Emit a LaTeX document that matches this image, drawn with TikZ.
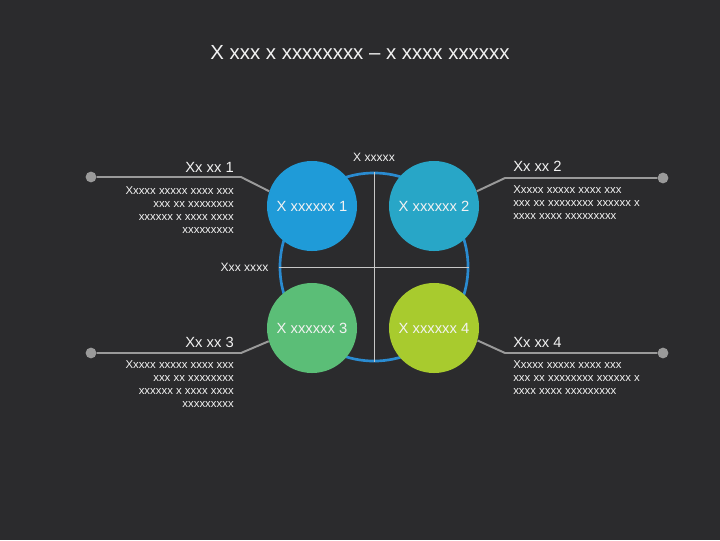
\documentclass[tikz,border=0pt]{standalone}
\usepackage{fontspec}
\setmainfont{Liberation Sans}
\usepackage{tikz}
\usetikzlibrary{positioning}

\definecolor{bgdark}{HTML}{2B2B2D}
\definecolor{ringblue}{HTML}{2A8BD0}
\definecolor{quadA}{HTML}{1F9BD8}
\definecolor{quadB}{HTML}{28A6C7}
\definecolor{quadC}{HTML}{5BBE77}
\definecolor{quadD}{HTML}{A8CB2E}
\definecolor{linegray}{HTML}{9A9A9A}
\definecolor{txtlight}{HTML}{F2F2F2}

\begin{document}
\begin{tikzpicture}[x=0.025cm, y=-0.025cm, every node/.style={text=txtlight},
  quad/.style={circle, minimum size=22.5mm, inner sep=0pt, font=\fontsize{10.5}{12}\selectfont},
  dot/.style={circle, fill=linegray, minimum size=2.7mm, inner sep=0pt},
  conn/.style={draw=linegray, line width=1.4pt},
  headl/.style={anchor=base east, inner sep=0pt, font=\fontsize{10.5}{12}\selectfont},
  headr/.style={anchor=base west, inner sep=0pt, font=\fontsize{10.5}{12}\selectfont},
  bodyl/.style={anchor=north east, inner sep=0pt, align=right, font=\fontsize{8.1}{9.4}\selectfont},
  bodyr/.style={anchor=north west, inner sep=0pt, align=left, font=\fontsize{8.1}{9.4}\selectfont}]
\useasboundingbox[fill=bgdark] (0,0) rectangle (720,540);
\node[font=\fontsize{14.5}{17}\selectfont] (title) at (360,52) {X xxx x xxxxxxxx -- x xxxx xxxxxx};
% ring with cross
\node[circle, draw=ringblue, line width=1.9pt, minimum size=47mm, inner sep=0pt] (ring) at (374,267) {};
\draw[white!78!black, line width=0.7pt] (ring.north) -- (ring.south) (ring.west) -- (ring.east);
\node[inner sep=0pt, above=2.4mm of ring.north, font=\fontsize{8.6}{10}\selectfont] (toplbl) {X xxxxx};
\node[inner sep=0pt, left=2.5mm of ring.west, font=\fontsize{8.6}{10}\selectfont] (leftlbl) {Xxx xxxx};
% four circles
\node[quad, fill=quadA] (c1) at (312,206) {X xxxxxx 1};
\node[quad, fill=quadB] (c2) at (434,206) {X xxxxxx 2};
\node[quad, fill=quadC] (c3) at (312,328) {X xxxxxx 3};
\node[quad, fill=quadD] (c4) at (434,328) {X xxxxxx 4};
% callouts
\node[dot] (d1) at (91,177) {};  \coordinate (b1) at (241,177);
\node[dot] (d2) at (663,178) {}; \coordinate (b2) at (505,178);
\node[dot] (d3) at (91,353) {};  \coordinate (b3) at (241,353);
\node[dot] (d4) at (663,353) {}; \coordinate (b4) at (505,353);
\draw[conn] (d1) -- (b1) -- (c1.161); \draw[conn] (d2) -- (b2) -- (c2.19);
\draw[conn] (d3) -- (b3) -- (c3.197); \draw[conn] (d4) -- (b4) -- (c4.344);
\node[headl] (h1) at (234,172) {Xx xx 1};
\node[bodyl] (t1) at (234,186) {Xxxxx xxxxx xxxx xxx\\xxx xx xxxxxxxx\\xxxxxx x xxxx xxxx\\xxxxxxxxx};
\node[headr] (h2) at (513,171) {Xx xx 2};
\node[bodyr] (t2) at (513,185) {Xxxxx xxxxx xxxx xxx\\xxx xx xxxxxxxx xxxxxx x\\xxxx xxxx xxxxxxxxx};
\node[headl] (h3) at (234,347) {Xx xx 3};
\node[bodyl] (t3) at (234,360) {Xxxxx xxxxx xxxx xxx\\xxx xx xxxxxxxx\\xxxxxx x xxxx xxxx\\xxxxxxxxx};
\node[headr] (h4) at (513,347) {Xx xx 4};
\node[bodyr] (t4) at (513,360) {Xxxxx xxxxx xxxx xxx\\xxx xx xxxxxxxx xxxxxx x\\xxxx xxxx xxxxxxxxx};
\end{tikzpicture}
\end{document}
